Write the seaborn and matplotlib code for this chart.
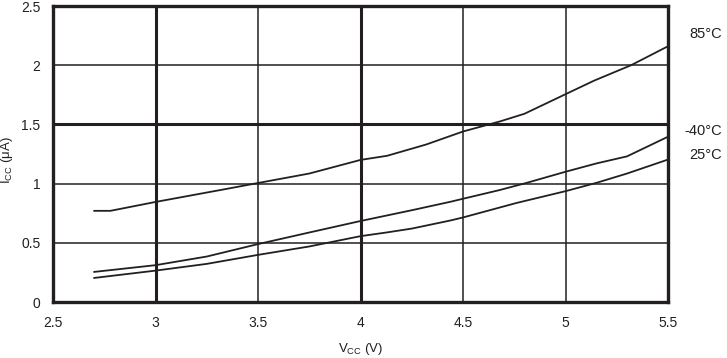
import numpy as np
import pandas as pd
import matplotlib
matplotlib.use("Agg")
import matplotlib.pyplot as plt
import matplotlib.transforms as mtransforms
from matplotlib.ticker import FixedLocator, FuncFormatter
import seaborn as sns

# ---- data ----
v_85 = [2.70, 2.78, 3.00, 3.33, 3.50, 3.75, 4.00, 4.13, 4.32, 4.50, 4.68, 4.80, 5.00, 5.14, 5.32, 5.50]
i_85 = [0.77, 0.77, 0.845, 0.95, 1.005, 1.085, 1.20, 1.235, 1.33, 1.44, 1.525, 1.59, 1.755, 1.87, 2.00, 2.16]

v_m40 = [2.70, 3.00, 3.25, 3.50, 3.75, 4.00, 4.25, 4.44, 4.50, 4.68, 4.81, 5.00, 5.15, 5.30, 5.50]
i_m40 = [0.254, 0.311, 0.384, 0.489, 0.587, 0.684, 0.775, 0.847, 0.872, 0.946, 1.006, 1.10, 1.17, 1.23, 1.396]

v_25 = [2.70, 3.00, 3.25, 3.50, 3.75, 4.00, 4.13, 4.25, 4.44, 4.50, 4.76, 5.00, 5.15, 5.30, 5.50]
i_25 = [0.203, 0.265, 0.322, 0.398, 0.469, 0.556, 0.588, 0.62, 0.689, 0.714, 0.836, 0.936, 1.006, 1.085, 1.203]

series_names = ["85°C", "-40°C", "25°C"]
label_y = [2.26, 1.447, 1.243]

x_ticks = [2.5, 3, 3.5, 4, 4.5, 5, 5.5]
y_ticks = [0, 0.5, 1, 1.5, 2, 2.5]
thick_x = [3, 4]
thick_y = [1.5]

df = pd.concat([
    pd.DataFrame({"V": v_85, "I": i_85, "T": series_names[0]}),
    pd.DataFrame({"V": v_m40, "I": i_m40, "T": series_names[1]}),
    pd.DataFrame({"V": v_25, "I": i_25, "T": series_names[2]}),
], ignore_index=True)

ink = "#231f20"
sns.set_style("white")
plt.rcParams["font.family"] = ["Liberation Sans", "DejaVu Sans"]
plt.rcParams["mathtext.default"] = "regular"

fig = plt.figure(figsize=(7.27, 3.58), dpi=100)
ax = fig.add_axes([53 / 727, 1 - 302 / 358, 615 / 727, 296 / 358])

# grid
for xv in x_ticks:
    ax.axvline(xv, color=ink, lw=2.2 if xv in thick_x else 1.1, zorder=1)
for yv in y_ticks:
    ax.axhline(yv, color=ink, lw=2.2 if yv in thick_y else 1.1, zorder=1)

sns.lineplot(data=df, x="V", y="I", hue="T", palette=[ink] * 3,
             linewidth=1.3, legend=False, ax=ax, zorder=3, sort=False)

ax.set_xlim(2.5, 5.5)
ax.set_ylim(0, 2.5)
ax.xaxis.set_major_locator(FixedLocator(x_ticks))
ax.yaxis.set_major_locator(FixedLocator(y_ticks))
fmt = FuncFormatter(lambda v, p: f"{v:g}")
ax.xaxis.set_major_formatter(fmt)
ax.yaxis.set_major_formatter(fmt)
ax.tick_params(axis="both", length=0, labelsize=10, colors=ink)
ax.tick_params(axis="y", pad=9)
ax.tick_params(axis="x", pad=10)

for s in ax.spines.values():
    s.set_visible(True)
    s.set_color(ink)
    s.set_linewidth(2.4)

ax.set_xlabel(r"V$_{CC}$ (V)", fontsize=9.5, color=ink, labelpad=8)
ax.set_ylabel(r"I$_{CC}$ ($\mu$A)", fontsize=9.5, color=ink)
ax.yaxis.set_label_coords(-(53 - 15) / 615, 0.48)

trans = mtransforms.blended_transform_factory(fig.transFigure, ax.transData)
for name, yv in zip(series_names, label_y):
    ax.text(722 / 727, yv, name, transform=trans, ha="right", va="center",
            fontsize=10.5, color=ink, clip_on=False)

fig.savefig("out.png", dpi=100)
